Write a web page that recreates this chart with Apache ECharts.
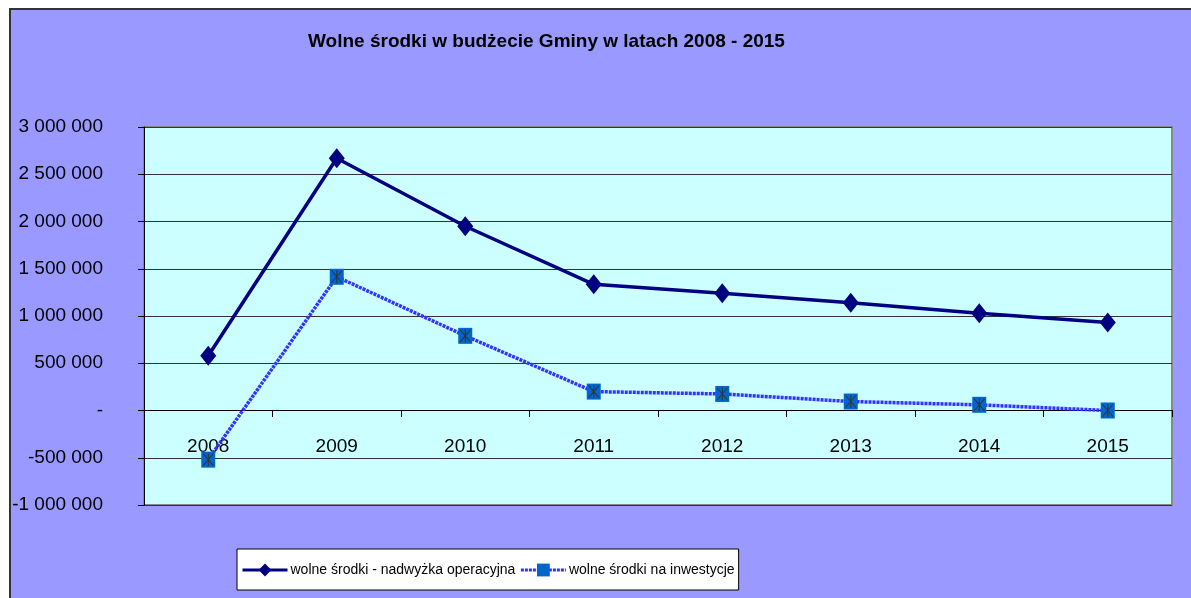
<!DOCTYPE html>
<html>
<head>
<meta charset="utf-8">
<script src="https://cdn.jsdelivr.net/npm/echarts@6/dist/echarts.min.js"></script>
<style>
html,body{margin:0;padding:0;background:#ffffff;}
#chart{width:1191px;height:598px;}
</style>
</head>
<body>
<div id="chart"></div>
<script>
const titleText = 'Wolne środki w budżecie Gminy w latach 2008 - 2015';
const categories = ['2008','2009','2010','2011','2012','2013','2014','2015'];
const seriesNames = ['wolne środki - nadwyżka operacyjna', 'wolne środki na inwestycje'];
const surplusValues = [580000, 2670000, 1950000, 1335000, 1240000, 1140000, 1030000, 930000];
const investValues = [-520000, 1415000, 790000, 200000, 175000, 95000, 60000, 0];

const FONT = '"Liberation Sans", Arial, sans-serif';

function fmt(v){
  if (v === 0) return '-';
  const s = Math.abs(v).toString().replace(/\B(?=(\d{3})+(?!\d))/g, ' ');
  return (v < 0 ? '-' : '') + s;
}

const starPath = 'path://M6.4 1 L7.6 1 L7.6 15 L6.4 15 Z M1.8 1.2 L12.9 14.1 L12.1 14.8 L1 1.9 Z M12.1 1.2 L12.9 1.9 L1.8 14.8 L1 14.1 Z';

const chart = echarts.init(document.getElementById('chart'), null, {renderer:'canvas'});
chart.setOption({
  animation: false,
  backgroundColor: '#ffffff',
  graphic: [{
    type: 'rect', z: -10, silent: true,
    shape: {x: 10, y: 9, width: 1200, height: 620},
    style: {fill: '#9999FF', stroke: '#333333', lineWidth: 2}
  }],
  title: {
    text: titleText, left: 308, top: 32, padding: 0,
    textStyle: {fontFamily: FONT, fontWeight: 'bold', fontSize: 19, color: '#000'}
  },
  legend: {
    data: seriesNames, orient: 'horizontal',
    left: 237, top: 549,
    padding: [14, 4, 13, 4],
    backgroundColor: '#ffffff', borderColor: '#000000', borderWidth: 1,
    itemWidth: 45, itemHeight: 16, itemGap: 4,
    lineStyle: {width: 3},
    textStyle: {fontFamily: FONT, fontSize: 14, color: '#000', padding: [0,0,0,-2]}
  },
  grid: {
    left: 144, right: 19, top: 127, bottom: 93,
    outerBoundsMode: 'none', containLabel: false,
    show: true, backgroundColor: '#CCFFFF', borderColor: '#888888', borderWidth: 2
  },
  xAxis: {
    type: 'category', data: categories, boundaryGap: true,
    position: 'bottom', offset: -95,
    axisLine: {onZero: false, lineStyle: {color: '#000', width: 1}},
    axisTick: {show: true, length: 7, lineStyle: {color: '#000'}},
    axisLabel: {margin: 27, fontFamily: FONT, fontSize: 19, color: '#000'},
    splitLine: {show: false}
  },
  yAxis: {
    type: 'value', min: -1000000, max: 3000000, interval: 500000,
    axisLine: {show: true, lineStyle: {color: '#000', width: 1}},
    axisTick: {show: true, length: 6, lineStyle: {color: '#000'}},
    axisLabel: {margin: 41, fontFamily: FONT, fontSize: 19, color: '#000', formatter: fmt},
    splitLine: {show: true, lineStyle: {color: '#333333', width: 1}}
  },
  series: [
    {
      name: seriesNames[0], type: 'line', data: surplusValues, z: 4,
      symbol: 'diamond', symbolSize: [16, 20],
      lineStyle: {color: '#000080', width: 3.5},
      itemStyle: {color: '#000080'}
    },
    {
      name: seriesNames[1], type: 'line', data: investValues, z: 3,
      symbol: 'rect', symbolSize: [14, 16],
      lineStyle: {color: '#3333FF', width: 3.5, type: [3, 1]},
      itemStyle: {color: '#0066CC'}
    },
    {
      name: 'star', type: 'line', data: investValues, z: 5, silent: true,
      symbol: starPath, symbolSize: [11, 13], showAllSymbol: true,
      lineStyle: {width: 0, opacity: 0},
      itemStyle: {color: '#333333'}
    }
  ]
});
</script>
</body>
</html>
